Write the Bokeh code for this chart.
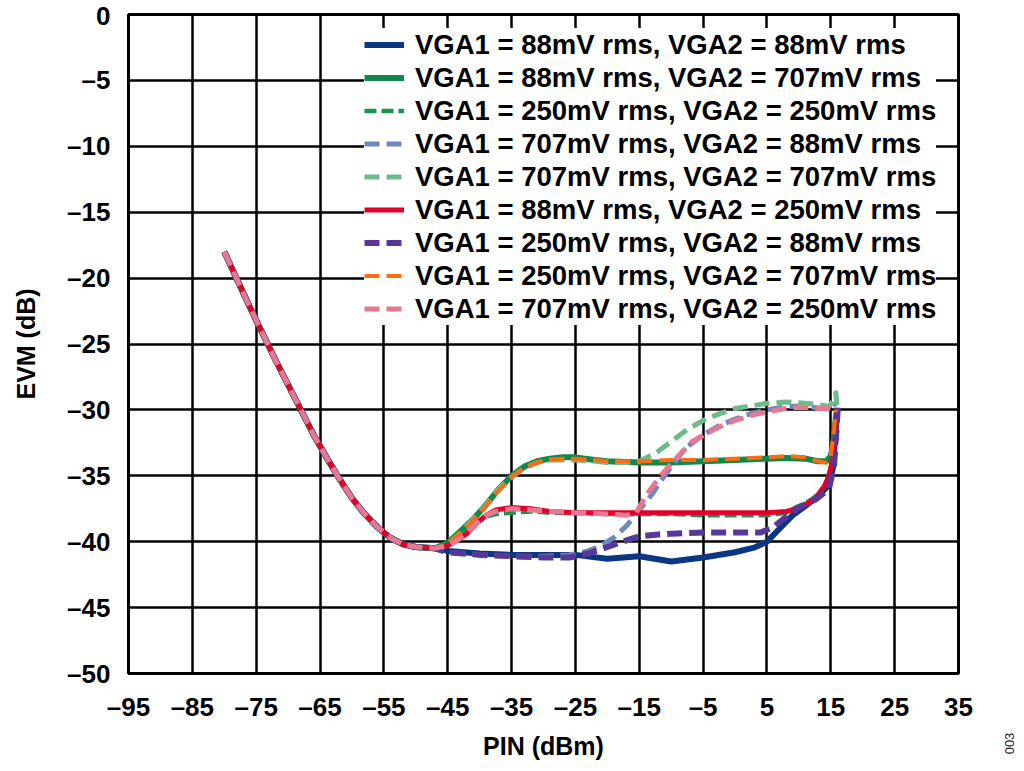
from bokeh.plotting import figure
from bokeh.models import FixedTicker, Range1d, Label
from bokeh.embed import file_html
from bokeh.resources import INLINE
import math

# ---------------- data ----------------
x_ticks = [-95, -85, -75, -65, -55, -45, -35, -25, -15, -5, 5, 15, 25, 35]
x_tick_labels = ["–95", "–85", "–75", "–65", "–55", "–45", "–35", "–25", "–15", "–5", "5", "15", "25", "35"]
y_ticks = [-50, -45, -40, -35, -30, -25, -20, -15, -10, -5, 0]
y_tick_labels = ["–50", "–45", "–40", "–35", "–30", "–25", "–20", "–15", "–10", "–5", "0"]

# shared low-power part of every sweep
common_x = [-80, -78, -76, -74, -72, -70, -68, -66, -64, -62, -60, -58, -56, -54, -52, -50, -47]
common_y = [-18.0, -20.1, -22.2, -24.2, -26.2, -28.1, -30.0, -31.9, -33.6, -35.2, -36.7, -37.9, -38.9, -39.7, -40.2, -40.4, -40.5]

# VGA1 = 88mV, VGA2 = 88mV
s1_x = [-45, -40, -35, -30, -25, -20, -15, -10, -5, 0, 3, 5, 7, 9, 11, 13, 14.5, 15.3, 15.7, 16.0]
s1_y = [-40.7, -40.9, -41.0, -41.0, -41.0, -41.3, -41.1, -41.5, -41.2, -40.8, -40.45, -40.0, -39.0, -38.0, -37.3, -36.5, -35.8, -34.5, -32.0, -30.1]

# VGA1 = 88mV, VGA2 = 707mV
s2_x = [-45, -43, -41, -39, -37, -35, -33, -31, -29, -27, -25, -22, -20, -15, -10, -5, 0, 5, 8, 11, 13, 14.3, 15.0, 15.4, 15.8, 16.0]
s2_y = [-40.1, -39.2, -38.3, -37.2, -36.0, -35.0, -34.3, -33.9, -33.7, -33.6, -33.6, -33.8, -33.9, -34.0, -34.0, -33.9, -33.8, -33.7, -33.65, -33.7, -33.9, -33.9, -33.5, -32.5, -30.5, -30.0]

# VGA1 = 250mV, VGA2 = 250mV
s3_x = [-45, -43.5, -42, -40.5, -39, -37.5, -35, -32, -29, -25, -20, -15, -10, -5, 0, 5, 8, 9.5, 11, 12.6, 14.0, 14.7, 15.3, 15.7, 16.0]
s3_y = [-40.3, -39.8, -39.2, -38.6, -38.1, -37.9, -37.8, -37.7, -37.8, -37.8, -37.9, -37.9, -37.9, -38.0, -38.0, -38.0, -37.8, -37.4, -37.1, -36.6, -35.8, -35.0, -33.6, -31.5, -30.0]

# VGA1 = 707mV, VGA2 = 88mV
s4_x = [-45, -40, -35, -30, -26, -23, -21, -19, -17, -15, -13, -11.5, -9.5, -7.8, -5, -2.5, 0, 2.7, 5, 7.9, 10, 13.2, 15, 15.8]
s4_y = [-40.8, -41.0, -41.1, -41.1, -41.0, -40.7, -40.3, -39.7, -38.8, -37.6, -36.4, -35.3, -34.0, -32.9, -31.9, -31.2, -30.7, -30.25, -30.0, -29.75, -29.7, -29.85, -29.8, -29.5]

# VGA1 = 707mV, VGA2 = 707mV
s5_x = [-45, -43, -41, -39, -37, -35, -33, -31, -29, -27, -25, -22, -20, -17, -15, -12.5, -10, -7.5, -5, -2.5, 0, 2.5, 5, 8, 11, 13.2, 14.7, 15.5, 15.8, 16.0]
s5_y = [-40.2, -39.3, -38.3, -37.2, -36.0, -35.1, -34.4, -34.0, -33.8, -33.8, -33.8, -33.9, -34.0, -34.0, -33.9, -33.3, -32.4, -31.5, -30.8, -30.3, -29.9, -29.7, -29.5, -29.4, -29.5, -29.6, -29.75, -29.2, -28.7, -30.0]

# VGA1 = 88mV, VGA2 = 250mV
s6_x = [-45, -43.5, -42, -40.5, -39, -37.5, -35, -32, -29, -25, -20, -15, -10, -5, 0, 5, 8, 9, 11, 12.6, 14.0, 14.7, 15.3, 15.7, 16.0]
s6_y = [-40.3, -39.9, -39.4, -38.6, -38.0, -37.6, -37.4, -37.5, -37.7, -37.8, -37.8, -37.8, -37.8, -37.8, -37.8, -37.8, -37.7, -37.6, -37.2, -36.7, -35.8, -35.0, -33.8, -32.0, -30.0]

# VGA1 = 250mV, VGA2 = 88mV
s7_x = [-45, -40, -35, -30, -26, -23, -20, -17, -15, -12, -10, -5, 0, 4, 6, 7.5, 10, 12.6, 14.7, 15.5, 15.9, 16.1]
s7_y = [-40.8, -41.0, -41.1, -41.2, -41.2, -40.9, -40.4, -39.9, -39.6, -39.45, -39.4, -39.3, -39.3, -39.3, -38.9, -38.3, -37.4, -36.8, -36.0, -34.3, -31.5, -29.8]

# VGA1 = 250mV, VGA2 = 707mV
s8_x = [-45, -43, -41, -39, -37, -35, -33, -31, -29, -27, -25, -22, -20, -15, -10, -5, 0, 5, 8, 11, 13, 14.3, 15.0, 15.5, 15.8]
s8_y = [-40.2, -39.3, -38.4, -37.3, -36.1, -35.1, -34.4, -34.0, -33.8, -33.7, -33.7, -33.8, -33.9, -33.9, -33.8, -33.8, -33.7, -33.6, -33.5, -33.6, -33.9, -34.0, -33.5, -31.5, -30.0]

# VGA1 = 707mV, VGA2 = 250mV
s9_x = [-45, -43.5, -42, -40.5, -39, -37.5, -35, -32, -29, -25, -20, -17, -15.5, -14.5, -13.5, -12, -10.4, -8.5, -6.7, -4.5, -2.5, 0, 2.7, 5, 7.9, 10, 13.2, 15, 15.8]
s9_y = [-40.3, -39.9, -39.3, -38.6, -38.0, -37.7, -37.5, -37.6, -37.7, -37.8, -37.9, -38.0, -37.8, -37.0, -36.2, -35.2, -34.3, -33.3, -32.4, -31.8, -31.3, -30.8, -30.4, -30.15, -29.9, -29.8, -29.9, -29.9, -29.9]

series_names = [
    "VGA1 = 88mV rms, VGA2 = 88mV rms",
    "VGA1 = 88mV rms, VGA2 = 707mV rms",
    "VGA1 = 250mV rms, VGA2 = 250mV rms",
    "VGA1 = 707mV rms, VGA2 = 88mV rms",
    "VGA1 = 707mV rms, VGA2 = 707mV rms",
    "VGA1 = 88mV rms, VGA2 = 250mV rms",
    "VGA1 = 250mV rms, VGA2 = 88mV rms",
    "VGA1 = 250mV rms, VGA2 = 707mV rms",
    "VGA1 = 707mV rms, VGA2 = 250mV rms",
]
series_x = [s1_x, s2_x, s3_x, s4_x, s5_x, s6_x, s7_x, s8_x, s9_x]
series_y = [s1_y, s2_y, s3_y, s4_y, s5_y, s6_y, s7_y, s8_y, s9_y]

figure_code = "003"

# ---------------- styles ----------------
colors = ["#0b3782", "#14874a", "#1b9450", "#7088bf", "#6dbb8d", "#e2002b", "#573899", "#ff6b12", "#e8788f"]
widths = [6, 6, 4.5, 5, 5, 5, 6, 4, 5]
dashes = ["solid", "solid", "12 5", "15 7", "15 7", "solid", "15 7", "15 7", "15 7"]

FONT = "Liberation Sans"

p = figure(width=1016, height=768,
           x_range=Range1d(-95, 35), y_range=Range1d(-50, 0),
           output_backend="svg", toolbar_location=None,
           min_border_left=128, min_border_right=58,
           min_border_top=14, min_border_bottom=95)

p.background_fill_color = "white"
p.border_fill_color = "white"
p.outline_line_color = "black"
p.outline_line_width = 3

for ax, ticks, labels in ((p.xaxis[0], x_ticks, x_tick_labels), (p.yaxis[0], y_ticks, y_tick_labels)):
    ax.ticker = FixedTicker(ticks=ticks)
    ax.major_label_overrides = {t: l for t, l in zip(ticks, labels)}
    ax.axis_line_color = None
    ax.major_tick_line_color = None
    ax.minor_tick_line_color = None
    ax.major_tick_out = 0
    ax.major_tick_in = 0
    ax.major_label_text_font = FONT
    ax.major_label_text_font_style = "bold"
    ax.major_label_text_font_size = "26px"
    ax.major_label_text_color = "black"
    ax.axis_label_text_font = FONT
    ax.axis_label_text_font_style = "bold"
    ax.axis_label_text_font_size = "25px"
    ax.axis_label_text_color = "black"

p.xaxis.axis_label = "PIN (dBm)"
p.yaxis.axis_label = "EVM (dB)"
p.xaxis.major_label_standoff = 18
p.yaxis.major_label_standoff = 18
p.xaxis.axis_label_standoff = 7
p.yaxis.axis_label_standoff = 24

p.xgrid.ticker = FixedTicker(ticks=x_ticks)
p.ygrid.ticker = FixedTicker(ticks=y_ticks)
for g in (p.xgrid[0], p.ygrid[0]):
    g.grid_line_color = "black"
    g.grid_line_width = 2.5
    g.grid_line_alpha = 1.0

for name, sx, sy, c, w, d in zip(series_names, series_x, series_y, colors, widths, dashes):
    p.line(common_x + sx, common_y + sy, line_color=c, line_width=w, line_dash=d,
           line_join="round", legend_label=name)

lg = p.legend[0]
lg.location = (236, 348)
lg.margin = 0
lg.padding = 6
lg.spacing = 0
lg.glyph_width = 40
lg.glyph_height = 33
lg.label_height = 33
lg.label_standoff = 11
lg.label_text_font = FONT
lg.label_text_font_style = "bold"
lg.label_text_font_size = "27.5px"
lg.label_text_color = "black"
lg.label_text_baseline = "middle"
lg.border_line_color = None
lg.background_fill_color = "white"
lg.background_fill_alpha = 1.0

# small figure code at the bottom right, outside the frame
p.add_layout(Label(x=51, y=-70, x_units="screen", y_units="screen", text=figure_code,
                   angle=math.pi / 2, text_font=FONT, text_font_size="13px",
                   text_align="center", text_baseline="middle", text_color="#222222"), "right")

open("out.html", "w").write(file_html(p, INLINE))
